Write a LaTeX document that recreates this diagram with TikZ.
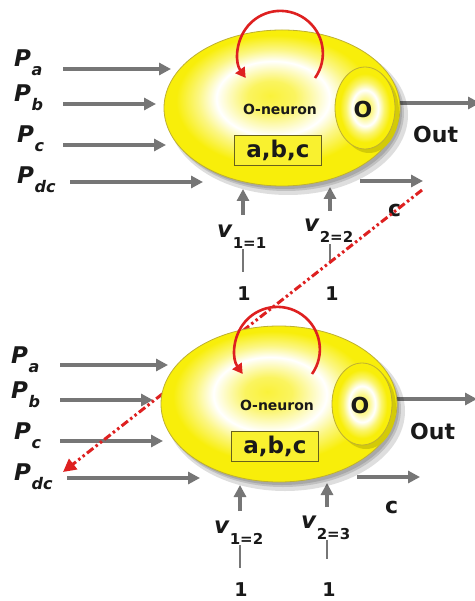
\documentclass[tikz,border=0pt]{standalone}
\usepackage{fontspec}
\setmainfont{DejaVu Sans}
\usetikzlibrary{arrows.meta,shapes.geometric}
\definecolor{ny}{RGB}{248,238,10}
\definecolor{nedge}{RGB}{190,176,50}
\definecolor{agray}{RGB}{118,118,118}
\definecolor{lred}{RGB}{222,32,32}
\definecolor{txt}{RGB}{25,25,25}
\pgfdeclareradialshading{bigshade}{\pgfpoint{-2.5bp}{4bp}}{color(0bp)=(ny!80!white); color(5bp)=(ny!65!white); color(12bp)=(white); color(16bp)=(white!50!ny); color(21bp)=(ny); color(25bp)=(ny); color(50bp)=(ny)}
\pgfdeclareradialshading{smallshade}{\pgfpoint{0bp}{0bp}}{color(0bp)=(ny!75!white); color(6bp)=(ny!45!white); color(11bp)=(white); color(16bp)=(white!40!ny); color(21bp)=(ny); color(25bp)=(ny); color(50bp)=(ny)}
\tikzset{
  garrow/.style={draw=agray, line width=3.4pt, -{Triangle[length=12pt,width=12pt]}},
  gline/.style={draw=agray, line width=2.6pt},
  bigneuron/.style={ellipse, draw=nedge, line width=0.8pt, inner sep=0pt, minimum width=236pt, minimum height=156pt, shade, shading=bigshade},
  smallneuron/.style={ellipse, draw=nedge, line width=0.8pt, inner sep=0pt, minimum width=60pt, minimum height=82pt, shade, shading=smallshade},
  abcbox/.style={draw=nedge!55!black, line width=0.7pt, fill=ny!85!white, minimum width=87pt, minimum height=30pt, inner sep=0pt, text=txt, font=\bfseries\fontsize{23}{23}\selectfont},
  lbl/.style={inner sep=0pt, text=txt, font=\bfseries\fontsize{22}{22}\selectfont},
  plabel/.style={lbl, anchor=base west, font=\bfseries\fontsize{23}{23}\selectfont},
  vlabel/.style={lbl, anchor=base west, font=\bfseries\fontsize{23}{23}\selectfont},
  onelabel/.style={lbl, anchor=base, font=\bfseries\fontsize{19}{19}\selectfont},
  selfloop/.style={draw=lred, line width=2.6pt, -{Triangle[length=10pt,width=11pt]}},
  reddash/.style={draw=lred, line width=3pt, dash pattern=on 8pt off 3pt on 2.5pt off 3pt on 2.5pt off 3pt, -{Triangle[length=13pt,width=13pt]}},
  shadowfill/.style={fill=black, opacity=0.13}
}
\newcommand\plab[1]{\textit{P}\kern0.5pt\raisebox{-9pt}{\fontsize{16}{16}\selectfont\textit{#1}}}
\newcommand\vlab[1]{\textit{v}\raisebox{-11pt}{\fontsize{15}{15}\selectfont #1}}
\newcommand\panelarrows[1]{%
  \coordinate (#1pa0) at (63,69);  \coordinate (#1pa1) at (171,69);
  \coordinate (#1pb0) at (63,104); \coordinate (#1pb1) at (156,104);
  \coordinate (#1pc0) at (63,145); \coordinate (#1pc1) at (166,145);
  \coordinate (#1pd0) at (70,182); \coordinate (#1pd1) at (203,182);
  \coordinate (#1o0) at (398,103); \coordinate (#1o1) at (480,103);
  \coordinate (#1c0) at (360,181); \coordinate (#1c1) at (423,181);
  \coordinate (#1u10) at (243,215); \coordinate (#1u11) at (243,189);
  \coordinate (#1u20) at (330,211); \coordinate (#1u21) at (330,187);
  \coordinate (#1l10) at (243,249); \coordinate (#1l11) at (243,272);
  \coordinate (#1l20) at (330,244); \coordinate (#1l21) at (330,263);
  \draw[garrow] (#1pa0) -- (#1pa1);
  \draw[garrow] (#1pb0) -- (#1pb1);
  \draw[garrow] (#1pc0) -- (#1pc1);
  \draw[garrow] (#1pd0) -- (#1pd1);
  \draw[garrow] (#1o0) -- (#1o1);
  \draw[garrow] (#1c0) -- (#1c1);
  \draw[garrow] (#1u10) -- (#1u11);
  \draw[garrow] (#1u20) -- (#1u21);
  \draw[gline] (#1l10) -- (#1l11);
  \draw[gline] (#1l20) -- (#1l21);
}
\newcommand\panelbody[3]{%
  \fill[shadowfill] (288,115) ellipse [x radius=120pt, y radius=80pt];
  \fill[shadowfill] (286,113) ellipse [x radius=118pt, y radius=78pt];
  \fill[shadowfill] (285,112) ellipse [x radius=117pt, y radius=77pt];
  \node[bigneuron] (#1N) at (282,108) {};
  \fill[ny!85!black] (369,112) ellipse [x radius=30pt, y radius=41pt];
  \node[smallneuron] (#1S) at (365,108) {};
  \node[lbl, font=\bfseries\fontsize{22}{22}\selectfont] (#1O) at (363,109.5) {O};
  \node[lbl, font=\bfseries\fontsize{14}{14}\selectfont] (#1neu) at (280,109) {O-neuron};
  \node[abcbox] (#1abc) at (278,150) {a,b,c};
  \coordinate (#1L0) at (315,78);
  \draw[selfloop] (#1L0) arc [start angle=-35.4, end angle=215.4, radius=42.5pt];
  \node[plabel] (#1Pa) at (14,67) {\plab{a}};
  \node[plabel] (#1Pb) at (14,102) {\plab{b}};
  \node[plabel] (#1Pc) at (17,143) {\plab{c}};
  \node[plabel] (#1Pd) at (17,184) {\plab{dc}};
  \node[vlabel] (#1v1) at (217,237) {\vlab{#2}};
  \node[vlabel] (#1v2) at (304,232) {\vlab{#3}};
  \node[onelabel] (#1one1) at (244,300) {1};
  \node[onelabel] (#1one2) at (332,300) {1};
  \node[lbl, anchor=base west] (#1out) at (413,143) {Out};
  \node[lbl, anchor=base west] (#1c) at (388,217) {c};
}
\begin{document}
\begin{tikzpicture}[x=1pt,y=-1pt]
\useasboundingbox (0,0) rectangle (474,601);
\fill[white] (0,0) rectangle (474,601);
\begin{scope}
  \panelarrows{t}
  \panelbody{t}{1=1}{2=2}
\end{scope}
\begin{scope}[shift={(-3,296)}]
  \panelarrows{b}
\end{scope}
\coordinate (r0) at (422,190);
\coordinate (r1) at (63,472);
\draw[reddash] (r0) -- (r1);
\begin{scope}[shift={(-3,296)}]
  \panelbody{b}{1=2}{2=3}
\end{scope}
\end{tikzpicture}
\end{document}
